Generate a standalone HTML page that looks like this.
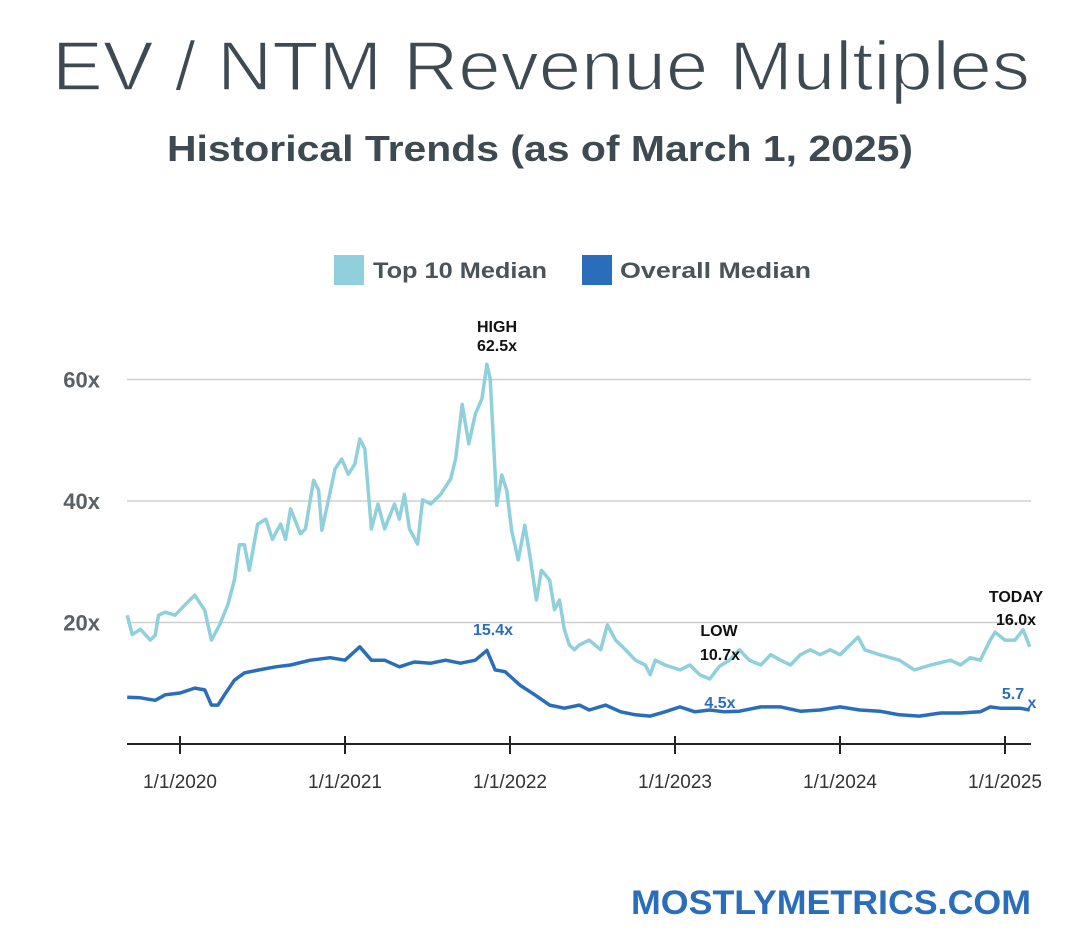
<!DOCTYPE html>
<html><head><meta charset="utf-8"><style>
html,body{margin:0;padding:0;background:#fff;}
svg{display:block;font-family:"Liberation Sans",sans-serif;}
</style></head><body>
<svg id="chart" width="1080" height="939" viewBox="0 0 1080 939">
<text x="52" y="90" font-size="70" fill="#3d4a52" stroke="#fff" stroke-width="1.6" textLength="978" lengthAdjust="spacingAndGlyphs">EV / NTM Revenue Multiples</text>
<text x="167" y="161" font-size="36" font-weight="bold" fill="#3d4a52" textLength="746" lengthAdjust="spacingAndGlyphs">Historical Trends (as of March 1, 2025)</text>
<g>
<rect x="334" y="255" width="30" height="30" fill="#8fd0dc"/>
<text x="373" y="278" font-size="22" font-weight="bold" fill="#4a5358" textLength="174" lengthAdjust="spacingAndGlyphs">Top 10 Median</text>
<rect x="582" y="255" width="30" height="30" fill="#2a6ebb"/>
<text x="620" y="278" font-size="22" font-weight="bold" fill="#4a5358" textLength="191" lengthAdjust="spacingAndGlyphs">Overall Median</text>
</g>
<g id="grid"></g><g id="axes"></g><g id="series"></g><g id="annots"></g>
<text x="1031" y="914" text-anchor="end" font-size="34" font-weight="bold" fill="#2a6ebb" textLength="400" lengthAdjust="spacingAndGlyphs">MOSTLYMETRICS.COM</text>
</svg>
<script>
const yTicks=[20,40,60];
const yTickLabels=["20x","40x","60x"];
const xTicks=[2020,2021,2022,2023,2024,2025];
const xTickLabels=["1/1/2020","1/1/2021","1/1/2022","1/1/2023","1/1/2024","1/1/2025"];
const top10Dates=[2019.68,2019.71,2019.76,2019.82,2019.85,2019.87,2019.91,2019.97,2020.03,2020.09,2020.15,2020.19,2020.24,2020.29,2020.33,2020.36,2020.39,2020.42,2020.47,2020.52,2020.56,2020.61,2020.64,2020.67,2020.73,2020.76,2020.81,2020.84,2020.86,2020.88,2020.94,2020.98,2021.02,2021.06,2021.09,2021.12,2021.16,2021.20,2021.24,2021.30,2021.33,2021.36,2021.39,2021.44,2021.47,2021.52,2021.58,2021.64,2021.67,2021.71,2021.75,2021.79,2021.83,2021.86,2021.88,2021.92,2021.95,2021.98,2022.01,2022.05,2022.09,2022.12,2022.16,2022.19,2022.24,2022.27,2022.30,2022.33,2022.36,2022.39,2022.42,2022.48,2022.55,2022.59,2022.64,2022.70,2022.76,2022.82,2022.85,2022.88,2022.94,2023.03,2023.09,2023.15,2023.21,2023.27,2023.33,2023.39,2023.45,2023.52,2023.58,2023.64,2023.70,2023.76,2023.82,2023.88,2023.94,2024.00,2024.06,2024.11,2024.15,2024.24,2024.36,2024.45,2024.55,2024.67,2024.73,2024.79,2024.85,2024.91,2024.94,2025.00,2025.06,2025.11,2025.15];
const top10Values=[21.2,18.0,18.9,17.1,17.9,21.2,21.7,21.2,22.9,24.5,22.0,17.1,19.6,22.9,27.0,32.8,32.8,28.6,36.2,37.0,33.7,36.2,33.7,38.7,34.6,35.4,43.4,41.8,35.2,37.7,45.3,46.9,44.4,46.1,50.2,48.6,35.4,39.5,35.4,39.5,37.0,41.1,35.4,32.9,40.2,39.5,41.1,43.6,46.9,55.9,49.4,54.3,56.8,62.5,60.1,39.3,44.3,41.8,35.2,30.3,36.0,31.1,23.7,28.6,27.0,22.1,23.7,18.8,16.3,15.5,16.3,17.1,15.5,19.6,17.1,15.5,13.8,13.0,11.4,13.8,13.0,12.2,13.0,11.4,10.7,12.8,13.8,15.5,13.8,13.0,14.7,13.8,13.0,14.7,15.5,14.7,15.5,14.7,16.3,17.6,15.5,14.7,13.8,12.2,13.0,13.8,13.0,14.2,13.8,17.1,18.4,17.1,17.1,18.8,16.0];
const overallDates=[2019.68,2019.76,2019.85,2019.91,2020.00,2020.09,2020.15,2020.19,2020.23,2020.27,2020.33,2020.39,2020.48,2020.58,2020.67,2020.79,2020.91,2021.00,2021.09,2021.16,2021.24,2021.33,2021.42,2021.52,2021.61,2021.70,2021.79,2021.86,2021.91,2021.97,2022.06,2022.15,2022.24,2022.33,2022.42,2022.48,2022.58,2022.67,2022.76,2022.85,2022.94,2023.03,2023.12,2023.21,2023.30,2023.39,2023.52,2023.64,2023.76,2023.88,2024.00,2024.12,2024.24,2024.36,2024.48,2024.61,2024.73,2024.85,2024.91,2024.97,2025.09,2025.15];
const overallValues=[7.7,7.6,7.2,8.1,8.4,9.2,8.9,6.4,6.4,8.1,10.5,11.7,12.2,12.7,13.0,13.8,14.2,13.8,16.0,13.8,13.8,12.7,13.5,13.3,13.8,13.3,13.8,15.4,12.2,11.9,9.7,8.1,6.4,5.9,6.4,5.6,6.4,5.3,4.8,4.6,5.3,6.1,5.3,5.6,5.3,5.4,6.1,6.1,5.4,5.6,6.1,5.6,5.4,4.8,4.6,5.1,5.1,5.3,6.1,5.9,5.9,5.6];

const NS="http://www.w3.org/2000/svg";
const X0=127,X1=1031,Y0=744;
function xs(t){return 180+(t-2020)*165;}
function ys(v){return Y0-v*6.075;}
function mk(tag,attrs,parent,text){const e=document.createElementNS(NS,tag);for(const k in attrs)e.setAttribute(k,attrs[k]);if(text!==undefined)e.textContent=text;parent.appendChild(e);return e;}
const grid=document.getElementById('grid'),axes=document.getElementById('axes'),series=document.getElementById('series'),ann=document.getElementById('annots');
yTicks.forEach((v,i)=>{
  const l=mk('line',{x1:X0,x2:X1,y1:ys(v),y2:ys(v),stroke:'#cfcfcf','stroke-width':1.5},grid);
  
  
  const t=mk('text',{x:100,y:ys(v)+8,'text-anchor':'end','font-size':22,'font-weight':'bold',fill:'#5a6166'},axes,yTickLabels[i]);
  
  
});
const ax=mk('line',{x1:X0,x2:X1,y1:Y0,y2:Y0,stroke:'#222','stroke-width':2},axes);


xTicks.forEach((t,i)=>{
  const tk=mk('line',{x1:xs(t),x2:xs(t),y1:Y0-8,y2:Y0+10,stroke:'#222','stroke-width':2},axes);
  
  
  const lb=mk('text',{x:xs(t),y:788,'text-anchor':'middle','font-size':19,fill:'#333'},axes,xTickLabels[i]);
  
  
});
function path(d,v){return d.map((t,i)=>(i?'L':'M')+xs(t).toFixed(1)+','+ys(v[i]).toFixed(1)).join('');}
const p1=mk('path',{d:path(top10Dates,top10Values),fill:'none',stroke:'#8fd0dc','stroke-width':3.5,'stroke-linejoin':'round'},series);


const p2=mk('path',{d:path(overallDates,overallValues),fill:'none',stroke:'#2a6ebb','stroke-width':3.5,'stroke-linejoin':'round'},series);


const notes=[["HIGH",497,332,'#111','high-label'],["62.5x",497,351,'#111','high-value'],["LOW",719,636,'#111','low-label'],["10.7x",720,660,'#111','low-value'],["TODAY",1016,602,'#111','today-label'],["16.0x",1016,625,'#111','today-value'],["15.4x",493,635,'#2a6ebb','overall-high-value'],["4.5x",720,708,'#2a6ebb','overall-low-value'],["5.7",1013,699,'#2a6ebb','overall-today-value'],["x",1032,708,'#2a6ebb','overall-today-suffix']];
notes.forEach(n=>{
  const t=mk('text',{x:n[1],y:n[2],'text-anchor':'middle','font-size':16,'font-weight':'bold',fill:n[3]},ann,n[0]);
  
  
});
</script>
</body></html>
